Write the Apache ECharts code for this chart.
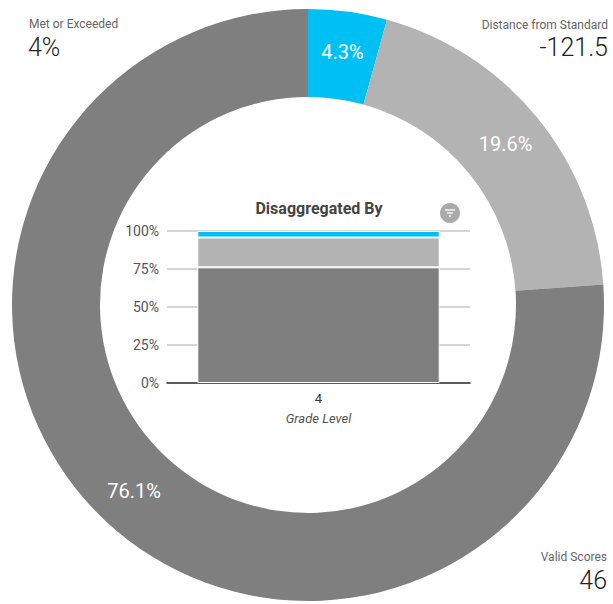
<!DOCTYPE html>
<html>
<head>
<meta charset="utf-8">
<title>Grade 4 results</title>
<script src="https://cdn.jsdelivr.net/npm/echarts@6/dist/echarts.min.js"></script>
<style>
  html, body { margin: 0; padding: 0; background: #fff; }
  #chart { width: 613px; height: 604px; }
</style>
</head>
<body>
<div id="chart"></div>
<script>
// Overall achievement level shares (percent of valid scores)
const levelNames = ['Met or Exceeded', 'Nearly Met', 'Not Met'];
const levelShares = [4.3, 19.6, 76.1];
const levelColors = ['#00BFF3', '#B3B3B3', '#7F7F7F'];

// Breakdown by grade level
const gradeLevels = ['4'];
const metByGrade = [4.3];
const nearlyByGrade = [19.6];
const notMetByGrade = [76.1];

// Summary figures shown in the corners
const metSummary = '4%';
const distanceFromStandard = '-121.5';
const validScores = '46';

const FONT = 'Roboto, "Noto Sans", sans-serif';

const chart = echarts.init(document.getElementById('chart'), null, { renderer: 'svg' });

function cornerText(x, y, text, size, color, align, weight) {
  return {
    type: 'text', x: x, y: y, silent: true,
    style: {
      text: text, fill: color, align: align, verticalAlign: 'middle',
      font: (weight || 'normal') + ' ' + size + 'px ' + FONT
    }
  };
}

chart.setOption({
  animation: false,
  textStyle: { fontFamily: FONT },
  grid: { left: 167, right: 143, top: 231, bottom: 221 },
  xAxis: {
    type: 'category',
    data: gradeLevels,
    name: 'Grade Level',
    nameLocation: 'middle',
    nameGap: 29,
    nameTextStyle: { fontStyle: 'italic', fontSize: 13, color: '#555' },
    axisLine: { lineStyle: { color: '#333', width: 1.5 } },
    axisTick: { show: false },
    axisLabel: { fontSize: 13, color: '#333', margin: 9 }
  },
  yAxis: {
    type: 'value',
    min: 0, max: 100, interval: 25,
    axisLabel: { formatter: '{value}%', fontSize: 14, color: '#555', margin: 8 },
    axisLine: { show: false },
    axisTick: { show: false },
    splitLine: { lineStyle: { color: '#c8c8c8', width: 1.5 } }
  },
  series: [
    {
      type: 'pie',
      center: [308, 305],
      radius: [208, 296],
      startAngle: 90,
      clockwise: true,
      silent: true,
      label: {
        show: true, position: 'inside', formatter: '{c}%',
        color: '#fff', fontSize: 20, fontFamily: FONT
      },
      labelLine: { show: false },
      data: levelNames.map((n, i) => ({
        name: n, value: levelShares[i], itemStyle: { color: levelColors[i] }
      }))
    },
    {
      type: 'bar', name: levelNames[2], stack: 'grade', data: notMetByGrade,
      barWidth: '80%', silent: true,
      itemStyle: { color: levelColors[2], borderColor: '#fff', borderWidth: 1 }
    },
    {
      type: 'bar', name: levelNames[1], stack: 'grade', data: nearlyByGrade,
      barWidth: '80%', silent: true,
      itemStyle: { color: levelColors[1], borderColor: '#fff', borderWidth: 1 }
    },
    {
      type: 'bar', name: levelNames[0], stack: 'grade', data: metByGrade,
      barWidth: '80%', silent: true,
      itemStyle: { color: levelColors[0], borderColor: '#fff', borderWidth: 1 }
    }
  ],
  graphic: [
    cornerText(29, 24, 'Met or Exceeded', 12, '#666', 'left'),
    cornerText(28, 47, metSummary, 25, '#222', 'left', 300),
    cornerText(608, 25, 'Distance from Standard', 12, '#666', 'right'),
    cornerText(608, 47, distanceFromStandard, 25, '#222', 'right', 300),
    cornerText(607, 557, 'Valid Scores', 12, '#666', 'right'),
    cornerText(607, 580, validScores, 25, '#222', 'right', 300),
    cornerText(319, 208, 'Disaggregated By', 16, '#444', 'center', 'bold'),
    // filter button
    {
      type: 'group', x: 450, y: 213, silent: true,
      children: [
        { type: 'circle', shape: { cx: 0, cy: 0, r: 10 }, style: { fill: '#aaa' } },
        { type: 'line', shape: { x1: -5, y1: -3, x2: 5, y2: -3 }, style: { stroke: '#fff', lineWidth: 1.3 } },
        { type: 'line', shape: { x1: -3, y1: 0, x2: 3, y2: 0 }, style: { stroke: '#fff', lineWidth: 1.3 } },
        { type: 'line', shape: { x1: -1, y1: 3, x2: 1, y2: 3 }, style: { stroke: '#fff', lineWidth: 1.3 } }
      ]
    }
  ]
});
</script>
</body>
</html>
